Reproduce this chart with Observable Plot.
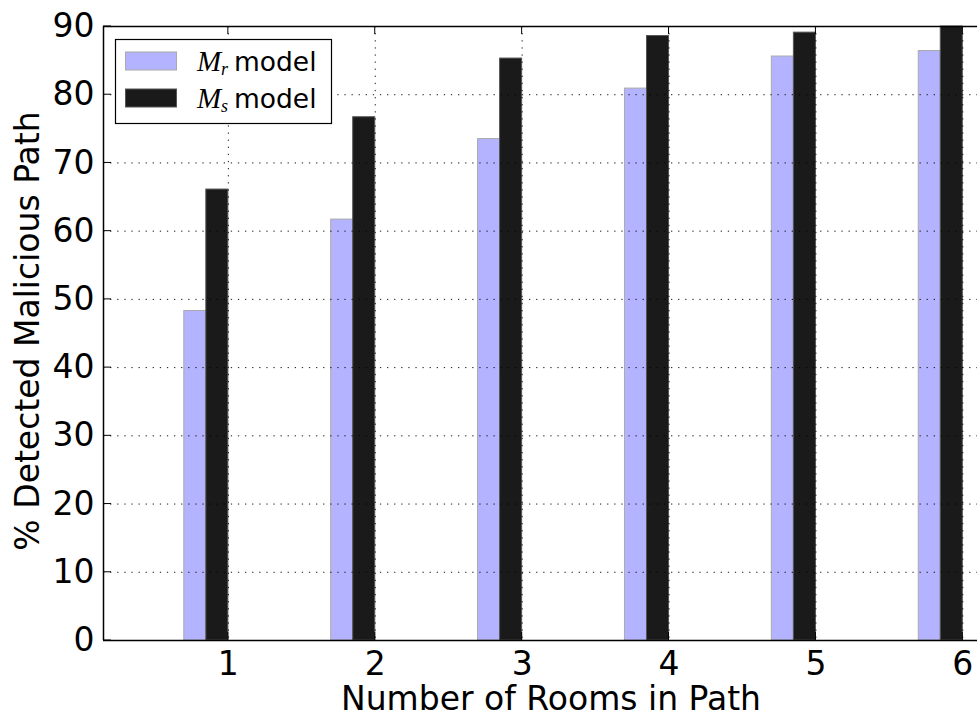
<!DOCTYPE html>
<html>
<head>
<meta charset="utf-8">
<script src="https://cdn.jsdelivr.net/npm/d3@7"></script>
<script src="https://cdn.jsdelivr.net/npm/@observablehq/plot@0.6"></script>
<style>
  html, body { margin: 0; padding: 0; background: #fff; }
  #chart { position: relative; width: 977px; height: 717px; }
  svg { font-family: "DejaVu Sans", sans-serif; }
</style>
</head>
<body>
<div id="chart"></div>
<script>
// ---- data ----
const rooms = [1, 2, 3, 4, 5, 6];
const mrValues = [48.3, 61.7, 73.5, 80.9, 85.6, 86.4];
const msValues = [66.1, 76.7, 85.3, 88.6, 89.1, 90.0];
const seriesSymbols = ["M", "M"];
const seriesSubscripts = ["r", "s"];
const seriesSuffix = "model";
const yTicks = [0, 10, 20, 30, 40, 50, 60, 70, 80, 90];
const xTicks = [1, 2, 3, 4, 5, 6];
const xLabel = "Number of Rooms in Path";
const yLabel = "% Detected Malicious Path";

const barW = 0.15;
const xDomain = [0.15, 6.1];
const yDomain = [0, 90];
const mrFill = "#b3b3ff";
const msFill = "#1a1a1a";
const mrEdge = "#aaaaaa";
const msEdge = "#555555";

const mrData = rooms.map((r, i) => ({room: r, value: mrValues[i]}));
const msData = rooms.map((r, i) => ({room: r, value: msValues[i]}));

const dotted = {stroke: "#000", strokeOpacity: 0.9, strokeWidth: 1, strokeDasharray: "1.3,5.8"};
const FS = 33;

const plot = Plot.plot({
  width: 977,
  height: 717,
  marginLeft: 103,
  marginRight: 0,
  marginTop: 26,
  marginBottom: 77,
  style: {fontFamily: "DejaVu Sans, sans-serif", fontSize: FS + "px", color: "#000", background: "#fff"},
  x: {domain: xDomain, range: [103, 977]},
  y: {domain: yDomain},
  marks: [
    Plot.rectY(mrData, {x1: d => d.room - 2 * barW, x2: d => d.room - barW, y1: 0, y2: "value", fill: mrFill, stroke: mrEdge, strokeWidth: 1}),
    Plot.rectY(msData, {x1: d => d.room - barW, x2: d => d.room, y1: 0, y2: "value", fill: msFill, stroke: msEdge, strokeWidth: 1}),
    Plot.gridY(yTicks.filter(t => t > 0 && t < 90), dotted),
    Plot.gridX(xTicks, dotted),
    Plot.ruleY([yDomain[0]], {stroke: "#000", strokeWidth: 1.5}),
    Plot.ruleY([yDomain[1]], {stroke: "#000", strokeWidth: 1.5}),
    Plot.ruleX([xDomain[0]], {stroke: "#000", strokeWidth: 1.5}),
    Plot.axisY(yTicks, {anchor: "left", tickSize: 0, tickPadding: 9, fontSize: FS, tickFormat: d3.format("d"), label: null}),
    Plot.axisX(xTicks, {anchor: "bottom", tickSize: 0, tickPadding: 11, fontSize: FS, tickFormat: d3.format("d"), label: null}),
    Plot.axisX(xTicks, {anchor: "top", tickSize: 0, tickFormat: () => "", label: null})
  ]
});

const container = document.getElementById("chart");
container.appendChild(plot);

const svg = d3.select(plot);
const xs = plot.scale("x");
const ys = plot.scale("y");
const xLeft = xs.apply(xDomain[0]);
const yBottom = ys.apply(yDomain[0]);
const yTop = ys.apply(yDomain[1]);

// inward tick marks (matplotlib classic style)
const tg = svg.append("g").attr("stroke", "#000").attr("stroke-width", 1);
yTicks.forEach(t => {
  const y = ys.apply(t);
  tg.append("line").attr("x1", xLeft).attr("x2", xLeft + 8).attr("y1", y).attr("y2", y);
});
xTicks.forEach(t => {
  const x = xs.apply(t);
  tg.append("line").attr("x1", x).attr("x2", x).attr("y1", yBottom).attr("y2", yBottom - 8);
  tg.append("line").attr("x1", x).attr("x2", x).attr("y1", yTop).attr("y2", yTop + 8);
});

// axis titles
svg.append("text")
  .attr("x", 551)
  .attr("y", 710)
  .attr("text-anchor", "middle")
  .attr("font-size", FS)
  .attr("fill", "#000")
  .text(xLabel);
svg.append("text")
  .attr("transform", `translate(39,331) rotate(-90)`)
  .attr("text-anchor", "middle")
  .attr("font-size", FS)
  .attr("fill", "#000")
  .text(yLabel);

// legend inside the plot area
const lg = svg.append("g").attr("text-anchor", "start");
lg.append("rect").attr("x", 115.5).attr("y", 39.5).attr("width", 216).attr("height", 84)
  .attr("fill", "#fff").attr("stroke", "#000").attr("stroke-width", 1.2);
const entries = [
  {fill: mrFill, stroke: mrEdge, sym: seriesSymbols[0], sub: seriesSubscripts[0]},
  {fill: msFill, stroke: msEdge, sym: seriesSymbols[1], sub: seriesSubscripts[1]}
];
const serif = "Liberation Serif, DejaVu Serif, serif";
entries.forEach((e, i) => {
  const cy = 61 + i * 37;
  lg.append("rect").attr("x", 125.5).attr("y", cy - 9).attr("width", 51).attr("height", 18)
    .attr("fill", e.fill).attr("stroke", e.stroke).attr("stroke-width", 1);
  lg.append("text").attr("x", 197).attr("y", cy + 10).attr("text-anchor", "start")
    .attr("font-family", serif).attr("font-style", "italic").attr("font-size", 29).attr("fill", "#000").text(e.sym);
  lg.append("text").attr("x", 221).attr("y", cy + 14).attr("text-anchor", "start")
    .attr("font-family", serif).attr("font-style", "italic").attr("font-size", 18).attr("fill", "#000").text(e.sub);
  lg.append("text").attr("x", 234).attr("y", cy + 10).attr("text-anchor", "start")
    .attr("font-family", "DejaVu Sans, sans-serif").attr("font-size", 26.5).attr("fill", "#000").text(seriesSuffix);
});
</script>
</body>
</html>
